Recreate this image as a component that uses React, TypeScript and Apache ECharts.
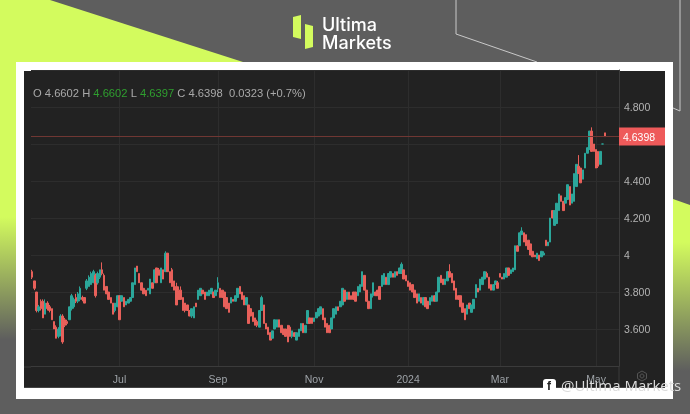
import { useEffect, useRef } from 'react'
import * as echarts from 'echarts'

// x axis: one slot per trading day, labels sit on the first day of the month
const slotCount = 269
const monthLabels: Record<number, string> = { 40: 'Jul', 85: 'Sep', 129: 'Nov', 172: '2024', 214: 'Mar', 258: 'May' }
const priceLabels: Record<string, string> = {
  '3.6': '3.600', '3.8': '3.800', '4.0': '4', '4.2': '4.200', '4.4': '4.400', '4.8': '4.800'
}
const lastPrice = 4.6398

const opens = [
  3.91,3.86,3.80,3.70,3.75,3.75,3.68,3.74,3.72,3.71,
  3.64,3.61,3.56,3.58,3.67,3.65,3.64,3.65,3.71,3.72,
  3.77,3.75,3.76,3.77,3.77,3.82,3.83,3.84,3.85,3.89,
  3.85,3.88,3.92,3.89,3.83,3.80,3.77,3.74,3.70,3.72,
  3.78,3.75,3.77,3.73,3.74,3.75,3.77,3.84,3.94,3.90,
  3.85,3.82,3.81,3.81,3.79,3.85,3.85,3.93,3.92,3.85,
  3.92,3.91,4.01,3.91,3.92,3.86,3.83,3.81,3.81,3.77,
  3.74,3.73,3.70,3.67,3.66,3.74,3.76,3.78,3.81,3.80,
  3.78,3.78,3.79,3.80,3.78,3.82,3.82,3.81,3.80,3.77,
  3.74,3.74,3.76,3.75,3.77,3.83,3.80,3.78,3.73,3.73,
  3.71,3.69,3.66,3.64,3.61,3.70,3.73,3.63,3.61,3.58,
  3.55,3.60,3.61,3.65,3.62,3.60,3.60,3.62,3.61,3.56,
  3.58,3.54,3.56,3.59,3.63,3.58,3.63,3.66,3.66,3.64,
  3.66,3.67,3.68,3.71,3.66,3.63,3.62,3.60,3.66,3.68,
  3.72,3.72,3.73,3.81,3.76,3.80,3.78,3.80,3.80,3.78,
  3.80,3.83,3.89,3.81,3.75,3.71,3.78,3.80,3.81,3.83,
  3.83,3.84,3.88,3.84,3.88,3.90,3.88,3.91,3.90,3.90,
  3.92,3.89,3.86,3.85,3.84,3.81,3.79,3.75,3.77,3.73,
  3.77,3.75,3.73,3.75,3.78,3.75,3.80,3.89,3.87,3.84,
  3.86,3.91,3.90,3.86,3.82,3.78,3.78,3.74,3.71,3.68,
  3.74,3.69,3.71,3.77,3.82,3.81,3.84,3.87,3.90,3.88,
  3.84,3.81,3.84,3.85,3.90,3.88,3.87,3.88,3.93,3.90,
  3.91,3.92,4.05,4.05,4.11,4.12,4.11,4.08,4.06,4.02,
  4.00,3.98,4.00,3.99,4.00,4.08,4.05,4.07,4.24,4.16,
  4.17,4.24,4.32,4.29,4.28,4.30,4.37,4.28,4.29,4.37,
  4.48,4.47,4.41,4.47,4.55,4.57,4.67,4.60,4.57,4.56,
  4.49,4.60,4.6602
]

const closes = [
  3.88,3.82,3.70,3.72,3.71,3.66,3.74,3.71,3.70,3.65,
  3.60,3.55,3.60,3.67,3.53,3.62,3.63,3.72,3.78,3.76,
  3.75,3.79,3.82,3.76,3.74,3.86,3.88,3.90,3.91,3.78,
  3.90,3.92,3.90,3.81,3.79,3.76,3.74,3.68,3.74,3.78,
  3.65,3.78,3.72,3.75,3.76,3.77,3.85,3.93,3.91,3.85,
  3.81,3.79,3.78,3.82,3.87,3.82,3.92,3.85,3.89,3.93,
  3.87,4.01,3.91,3.85,3.83,3.81,3.73,3.76,3.76,3.70,
  3.70,3.70,3.67,3.71,3.72,3.72,3.81,3.82,3.79,3.76,
  3.80,3.81,3.82,3.77,3.81,3.85,3.77,3.77,3.72,3.71,
  3.69,3.77,3.75,3.78,3.82,3.79,3.76,3.73,3.77,3.63,
  3.67,3.64,3.62,3.62,3.70,3.77,3.63,3.60,3.57,3.54,
  3.59,3.65,3.65,3.61,3.58,3.57,3.56,3.53,3.56,3.59,
  3.56,3.58,3.60,3.63,3.58,3.62,3.70,3.63,3.63,3.66,
  3.69,3.71,3.72,3.65,3.61,3.58,3.58,3.66,3.71,3.72,
  3.70,3.75,3.82,3.75,3.80,3.76,3.76,3.76,3.75,3.83,
  3.84,3.91,3.81,3.75,3.71,3.79,3.85,3.78,3.78,3.76,
  3.89,3.90,3.84,3.90,3.91,3.88,3.91,3.89,3.93,3.95,
  3.87,3.86,3.83,3.81,3.80,3.77,3.74,3.79,3.74,3.77,
  3.72,3.71,3.77,3.78,3.75,3.80,3.88,3.85,3.84,3.87,
  3.91,3.88,3.85,3.81,3.76,3.76,3.72,3.69,3.65,3.73,
  3.71,3.73,3.76,3.84,3.80,3.87,3.88,3.91,3.88,3.82,
  3.81,3.84,3.86,3.82,3.88,3.87,3.90,3.93,3.89,3.92,
  3.93,4.05,4.02,4.12,4.13,4.07,4.05,4.03,4.00,3.99,
  3.99,4.01,3.97,4.02,4.01,4.05,4.07,4.20,4.20,4.24,
  4.28,4.33,4.29,4.24,4.31,4.38,4.27,4.33,4.44,4.49,
  4.44,4.39,4.46,4.55,4.58,4.67,4.56,4.56,4.47,4.48,
  4.56,4.60,4.6398
]

const lows = [
  3.87,3.81,3.69,3.69,3.70,3.66,3.68,3.70,3.69,3.65,
  3.60,3.55,3.55,3.56,3.52,3.61,3.62,3.65,3.70,3.71,
  3.74,3.74,3.75,3.75,3.74,3.81,3.83,3.84,3.85,3.77,
  3.84,3.87,3.89,3.81,3.79,3.76,3.74,3.68,3.69,3.72,
  3.65,3.75,3.72,3.73,3.74,3.75,3.77,3.84,3.91,3.85,
  3.81,3.79,3.78,3.81,3.79,3.82,3.85,3.85,3.89,3.85,
  3.87,3.91,3.91,3.85,3.83,3.81,3.73,3.76,3.76,3.70,
  3.69,3.70,3.67,3.66,3.66,3.72,3.76,3.78,3.79,3.76,
  3.78,3.78,3.79,3.77,3.78,3.80,3.77,3.77,3.72,3.71,
  3.69,3.74,3.75,3.75,3.77,3.79,3.76,3.73,3.73,3.63,
  3.67,3.64,3.62,3.61,3.61,3.70,3.63,3.60,3.57,3.54,
  3.55,3.60,3.61,3.61,3.58,3.57,3.56,3.53,3.56,3.55,
  3.56,3.54,3.56,3.59,3.58,3.58,3.63,3.63,3.63,3.64,
  3.66,3.67,3.68,3.65,3.61,3.58,3.58,3.60,3.66,3.68,
  3.70,3.72,3.73,3.75,3.76,3.76,3.76,3.76,3.75,3.78,
  3.80,3.83,3.81,3.75,3.71,3.71,3.77,3.78,3.78,3.76,
  3.83,3.84,3.84,3.84,3.88,3.88,3.88,3.89,3.90,3.90,
  3.87,3.86,3.83,3.81,3.80,3.77,3.74,3.75,3.74,3.73,
  3.72,3.71,3.73,3.75,3.75,3.75,3.80,3.85,3.84,3.84,
  3.86,3.88,3.85,3.81,3.76,3.76,3.72,3.69,3.65,3.68,
  3.71,3.69,3.71,3.77,3.80,3.81,3.84,3.87,3.88,3.82,
  3.81,3.81,3.84,3.82,3.88,3.87,3.87,3.88,3.89,3.90,
  3.91,3.92,4.02,4.05,4.11,4.07,4.05,4.03,4.00,3.99,
  3.99,3.98,3.97,3.99,4.00,4.05,4.05,4.07,4.20,4.16,
  4.17,4.24,4.29,4.24,4.28,4.30,4.27,4.28,4.29,4.37,
  4.44,4.39,4.41,4.47,4.55,4.57,4.56,4.56,4.47,4.47,
  4.49,4.60,4.6397
]

const highs = [
  3.92,3.86,3.80,3.73,3.76,3.76,3.76,3.75,3.73,3.71,
  3.64,3.62,3.61,3.68,3.68,3.66,3.65,3.72,3.79,3.77,
  3.79,3.80,3.83,3.78,3.77,3.87,3.89,3.91,3.92,3.90,
  3.91,3.92,3.96,3.90,3.83,3.80,3.77,3.74,3.74,3.78,
  3.78,3.78,3.77,3.75,3.76,3.77,3.85,3.93,3.94,3.90,
  3.85,3.82,3.81,3.82,3.87,3.85,3.92,3.93,3.93,3.93,
  3.92,4.02,4.01,3.91,3.93,3.86,3.85,3.83,3.83,3.77,
  3.74,3.73,3.70,3.71,3.72,3.74,3.81,3.82,3.81,3.80,
  3.80,3.81,3.82,3.80,3.81,3.88,3.82,3.81,3.80,3.77,
  3.74,3.77,3.76,3.78,3.82,3.83,3.80,3.78,3.77,3.73,
  3.71,3.69,3.66,3.65,3.70,3.78,3.73,3.63,3.61,3.58,
  3.59,3.65,3.65,3.65,3.62,3.60,3.60,3.62,3.62,3.59,
  3.58,3.58,3.60,3.63,3.63,3.62,3.70,3.66,3.66,3.66,
  3.69,3.71,3.72,3.71,3.66,3.63,3.62,3.66,3.71,3.72,
  3.72,3.75,3.82,3.81,3.80,3.80,3.78,3.80,3.80,3.83,
  3.84,3.91,3.89,3.81,3.75,3.79,3.85,3.80,3.81,3.83,
  3.89,3.90,3.88,3.90,3.91,3.90,3.91,3.91,3.93,3.96,
  3.92,3.89,3.86,3.85,3.84,3.81,3.79,3.79,3.77,3.77,
  3.77,3.75,3.77,3.78,3.78,3.80,3.88,3.89,3.87,3.87,
  3.91,3.95,3.90,3.86,3.82,3.78,3.78,3.74,3.71,3.73,
  3.74,3.73,3.76,3.84,3.82,3.87,3.88,3.91,3.91,3.88,
  3.84,3.84,3.86,3.86,3.90,3.88,3.90,3.93,3.93,3.92,
  3.93,4.05,4.05,4.12,4.15,4.12,4.11,4.08,4.06,4.02,
  4.00,4.01,4.00,4.02,4.02,4.08,4.07,4.20,4.24,4.24,
  4.28,4.33,4.32,4.29,4.31,4.38,4.37,4.33,4.44,4.49,
  4.54,4.47,4.46,4.55,4.58,4.67,4.69,4.60,4.57,4.56,
  4.56,4.60,4.6602
]

const LIME = '#d3fb5e'
const GREY = '#5e5e5e'
const UP = '#2ba69a'
const DOWN = '#e8605a'
const GRID = '#2d2d2d'
const AXIS = '#3b3b3b'

const fade = (stop1: number, stop2: number) => ({
  type: 'linear', x: 0, y: 0, x2: 0, y2: 1,
  colorStops: [
    { offset: 0, color: LIME },
    { offset: stop1, color: LIME },
    { offset: stop2, color: GREY },
    { offset: 1, color: GREY }
  ]
})

const backgroundShapes = [
  { type: 'polygon', z: -9, shape: { points: [[0, 0], [50, 0], [243, 62], [243, 350], [0, 350]] }, style: { fill: fade(0.62, 0.97) } },
  { type: 'polygon', z: -9, shape: { points: [[673, 199], [690, 205], [690, 414], [673, 414]] }, style: { fill: fade(0.2, 0.8) } },
  { type: 'polyline', z: -9, shape: { points: [[456, 0], [456, 34], [537, 62]] }, style: { stroke: '#c9c9c9', lineWidth: 1, fill: 'none' } },
  { type: 'polyline', z: -9, shape: { points: [[680, 0], [680, 111], [673, 108]] }, style: { stroke: '#c9c9c9', lineWidth: 1, fill: 'none' } },
  { type: 'polygon', z: -9, shape: { points: [[293, 17], [301, 15], [301, 39], [293, 37]] }, style: { fill: LIME } },
  { type: 'polygon', z: -9, shape: { points: [[305, 24], [313, 26], [313, 47], [305, 49]] }, style: { fill: LIME } },
  { type: 'text', z: -9, x: 322, y: 15, style: { text: 'Ultima\nMarkets', fill: '#fff', font: '500 18px Inter', lineHeight: 18, textVerticalAlign: 'top' } },
  { type: 'rect', z: -8, shape: { x: 16, y: 62, width: 657, height: 337 }, style: { fill: '#fff' } },
  { type: 'rect', z: -7, shape: { x: 24, y: 71, width: 641, height: 317 }, style: { fill: '#222' } },
  { type: 'line', z: -6, shape: { x1: 24, y1: 367, x2: 31, y2: 367 }, style: { stroke: AXIS, lineWidth: 1 } },
  { type: 'line', z: -6, shape: { x1: 619, y1: 366, x2: 619, y2: 387 }, style: { stroke: AXIS, lineWidth: 1 } },
  { type: 'line', z: -6, shape: { x1: 24, y1: 387.5, x2: 665, y2: 387.5 }, style: { stroke: '#444', lineWidth: 1 } }
]

const overlayShapes = [
  {
    type: 'text', z: 50, x: 33, y: 87,
    style: {
      text: '{g|O 4.6602 H }{u|4.6602}{g| L }{u|4.6397}{g| C 4.6398  0.0323 (+0.7%)}',
      textVerticalAlign: 'top',
      rich: {
        g: { fill: '#a9a9a9', font: '11.2px "Liberation Sans"' },
        u: { fill: '#2f9f2f', font: '11.2px "Liberation Sans"' }
      }
    }
  },
  { type: 'circle', z: 50, shape: { cx: 642, cy: 376, r: 2 }, style: { fill: 'none', stroke: '#555', lineWidth: 1 } },
  { type: 'polygon', z: 50, shape: { points: [[642, 371], [646.5, 373.5], [646.5, 378.5], [642, 381], [637.5, 378.5], [637.5, 373.5]] }, style: { fill: 'none', stroke: '#555', lineWidth: 1 } },
  { type: 'rect', z: 60, shape: { x: 543, y: 379, width: 13, height: 13, r: 3 }, style: { fill: '#fff' } },
  { type: 'text', z: 61, x: 547, y: 380, style: { text: 'f', fill: '#222', font: 'bold 12px "Liberation Sans"', textVerticalAlign: 'top' } },
  { type: 'text', z: 60, x: 561, y: 377, style: { text: '@Ultima Markets', fill: '#dcdcdc', font: '15px "Open Sans"', textVerticalAlign: 'top' } }
]

export default function App() {
  const chartRef = useRef<HTMLDivElement>(null)

  useEffect(() => {
    if (!chartRef.current) return
    const chart = echarts.init(chartRef.current, undefined, { renderer: 'svg' })

    const categories = Array.from({ length: slotCount }, (_, i) => monthLabels[i] ?? '')
    const candles = opens.map((open, i) => [open, closes[i], lows[i], highs[i]])
    const isMonth = (index: number) => index in monthLabels

    chart.setOption({
      animation: false,
      backgroundColor: GREY,
      graphic: { elements: [...backgroundShapes, ...overlayShapes] },
      grid: { left: 31, right: 71, top: 70, height: 296 },
      xAxis: {
        type: 'category',
        data: categories,
        axisLine: { lineStyle: { color: AXIS } },
        axisTick: { show: false, alignWithLabel: true, interval: isMonth },
        axisLabel: { color: '#9ea3a8', fontSize: 10.5, fontFamily: 'Liberation Sans', interval: isMonth, margin: 7, hideOverlap: false },
        splitLine: { show: true, alignWithLabel: true, interval: isMonth, lineStyle: { color: GRID } }
      },
      yAxis: {
        type: 'value',
        position: 'right',
        min: 3.4,
        max: 5,
        interval: 0.2,
        axisLine: { show: true, lineStyle: { color: AXIS } },
        axisTick: { show: false },
        axisLabel: {
          color: '#b4b4b4',
          fontSize: 10.5,
          fontFamily: 'Liberation Sans',
          margin: 5,
          formatter: (value: number) => priceLabels[value.toFixed(1)] ?? ''
        },
        splitLine: { lineStyle: { color: GRID } }
      },
      series: [
        {
          type: 'candlestick',
          data: candles,
          barWidth: 2,
          itemStyle: { color: UP, color0: DOWN, borderColor: UP, borderColor0: DOWN, borderWidth: 1 },
          markLine: {
            silent: true,
            symbol: 'none',
            data: [{ yAxis: lastPrice }],
            lineStyle: { color: '#703733', type: 'solid', width: 1 },
            label: {
              position: 'end',
              distance: 0,
              formatter: lastPrice.toFixed(4),
              backgroundColor: '#ee5a5a',
              color: '#fff',
              fontSize: 10.5,
              fontFamily: 'Liberation Sans',
              width: 42,
              height: 18,
              lineHeight: 18,
              padding: [0, 0, 0, 4]
            }
          }
        }
      ]
    })

    return () => chart.dispose()
  }, [])

  // the reference is a soft, upscaled screenshot
  return <div ref={chartRef} style={{ position: 'absolute', left: 0, top: 0, width: 690, height: 414, filter: 'blur(0.5px)' }} />
}
